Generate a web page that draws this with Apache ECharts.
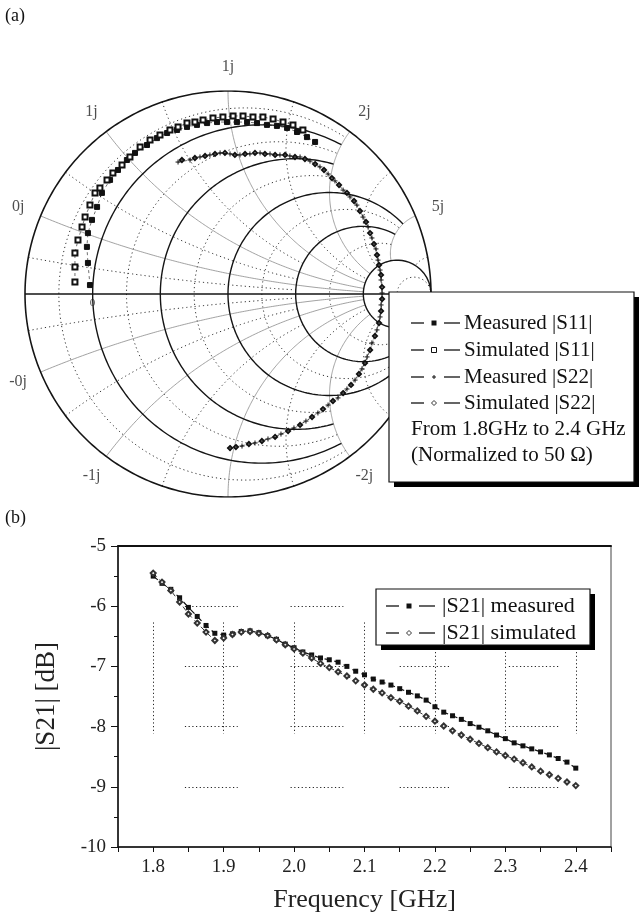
<!DOCTYPE html>
<html><head><meta charset="utf-8">
<script src="https://cdn.jsdelivr.net/npm/echarts@6/dist/echarts.min.js"></script>
<style>html,body{margin:0;padding:0;background:#fff}#c{width:639px;height:916px}</style>
</head><body><div id="c"></div>
<script>
// ---------- (b) |S21| data ----------
const freqs = [1.8,1.8125,1.825,1.8375,1.85,1.8625,1.875,1.8875,1.9,1.9125,1.925,1.9375,1.95,1.9625,1.975,1.9875,
  2.0,2.0125,2.025,2.0375,2.05,2.0625,2.075,2.0875,2.1,2.1125,2.125,2.1375,2.15,2.1625,2.175,2.1875,
  2.2,2.2125,2.225,2.2375,2.25,2.2625,2.275,2.2875,2.3,2.3125,2.325,2.3375,2.35,2.3625,2.375,2.3875,2.4];
const s21Measured = [-5.50,-5.62,-5.72,-5.86,-6.02,-6.17,-6.32,-6.45,-6.48,-6.46,-6.42,-6.41,-6.44,-6.49,-6.55,-6.63,
  -6.69,-6.76,-6.81,-6.86,-6.89,-6.93,-7.00,-7.08,-7.14,-7.21,-7.26,-7.31,-7.37,-7.43,-7.49,-7.56,
  -7.67,-7.76,-7.82,-7.88,-7.95,-8.01,-8.07,-8.14,-8.20,-8.27,-8.32,-8.37,-8.42,-8.47,-8.53,-8.59,-8.69];
const s21Simulated = [-5.45,-5.60,-5.74,-5.93,-6.13,-6.28,-6.43,-6.57,-6.53,-6.47,-6.43,-6.42,-6.45,-6.49,-6.56,-6.64,
  -6.71,-6.78,-6.86,-6.95,-7.02,-7.09,-7.16,-7.24,-7.31,-7.38,-7.44,-7.52,-7.58,-7.66,-7.74,-7.83,
  -7.91,-7.99,-8.07,-8.14,-8.21,-8.28,-8.35,-8.42,-8.48,-8.54,-8.60,-8.67,-8.74,-8.80,-8.86,-8.92,-8.98];
const yTickValues = [-10,-9,-8,-7,-6,-5];
const xTickLabels = ['1.8','1.9','2.0','2.1','2.2','2.3','2.4'];

// ---------- (a) Smith chart data (reflection coefficient, real / imag) ----------
const s11Measured = [[-0.680,0.044],[-0.690,0.153],[-0.695,0.232],[-0.690,0.300],[-0.670,0.365],[-0.645,0.429],
  [-0.621,0.498],[-0.581,0.562],[-0.542,0.611],[-0.498,0.660],[-0.458,0.695],[-0.399,0.734],[-0.350,0.768],
  [-0.300,0.793],[-0.251,0.808],[-0.202,0.823],[-0.153,0.833],[-0.103,0.842],[-0.054,0.847],[-0.005,0.847],
  [0.044,0.847],[0.094,0.847],[0.143,0.842],[0.192,0.833],[0.241,0.828],[0.291,0.818],[0.340,0.798],
  [0.389,0.773],[0.429,0.749]];
const s11Simulated = [[-0.754,0.059],[-0.754,0.133],[-0.754,0.202],[-0.739,0.266],[-0.719,0.330],[-0.704,0.379],
  [-0.680,0.438],[-0.655,0.498],[-0.631,0.522],[-0.596,0.562],[-0.567,0.596],[-0.522,0.635],[-0.483,0.675],
  [-0.433,0.724],[-0.384,0.759],[-0.335,0.783],[-0.286,0.808],[-0.246,0.823],[-0.202,0.842],[-0.163,0.847],
  [-0.123,0.857],[-0.074,0.867],[-0.025,0.872],[0.025,0.877],[0.074,0.877],[0.123,0.872],[0.172,0.872],
  [0.222,0.862],[0.271,0.847],[0.320,0.833],[0.369,0.808]];
const s22Measured = [[-0.246,0.650],[-0.187,0.660],[-0.138,0.675],[-0.089,0.685],[-0.039,0.695],[0.010,0.690],
  [0.059,0.685],[0.108,0.690],[0.158,0.695],[0.207,0.690],[0.256,0.685],[0.305,0.680],[0.355,0.675],[0.404,0.655],
  [0.453,0.626],[0.493,0.591],[0.527,0.557],[0.567,0.512],[0.601,0.478],[0.635,0.438],[0.665,0.379],[0.690,0.330],
  [0.709,0.276],[0.729,0.222],[0.739,0.167],[0.749,0.118],[0.754,0.069],[0.759,0.005],[0.754,-0.054],[0.749,-0.113],
  [0.734,-0.177],[0.709,-0.241],[0.685,-0.310],[0.660,-0.369],[0.626,-0.424],[0.586,-0.468],[0.542,-0.512],
  [0.493,-0.547],[0.443,-0.586],[0.384,-0.626],[0.325,-0.660],[0.261,-0.690],[0.197,-0.714],[0.133,-0.734],
  [0.069,-0.749],[0.010,-0.759]];
const s22Simulated = [[-0.227,0.660],[-0.163,0.670],[-0.113,0.680],[-0.064,0.690],[-0.015,0.695],[0.034,0.685],
  [0.084,0.690],[0.133,0.695],[0.182,0.690],[0.232,0.685],[0.281,0.685],[0.330,0.675],[0.379,0.665],[0.429,0.640],
  [0.473,0.611],[0.512,0.571],[0.547,0.537],[0.586,0.498],[0.621,0.458],[0.650,0.409],[0.680,0.355],[0.700,0.300],
  [0.719,0.246],[0.734,0.192],[0.744,0.143],[0.754,0.094],[0.759,0.034],[0.759,-0.025],[0.754,-0.084],[0.744,-0.143],
  [0.724,-0.207],[0.700,-0.276],[0.675,-0.340],[0.645,-0.394],[0.606,-0.448],[0.567,-0.488],[0.517,-0.527],
  [0.468,-0.567],[0.414,-0.606],[0.355,-0.645],[0.296,-0.675],[0.232,-0.704],[0.167,-0.724],[0.103,-0.739],
  [0.039,-0.754],[0.010,-0.759]];
// Smith grid definition
const majorR = [0.2, 0.5, 1, 2, 5];
const majorRLimit = [2, 2, 5, 5, 1e9];
const minorR = [1/11, 1/3, 5/7, 1.4, 3, 11];
const minorRLimit = [2, 2, 2, 5, 5, 1e9];
const majorX = [0.2, 0.5, 1, 2, 5];
const majorXLimit = [5, 5, 5, 5, 5];
const minorX = [1/11, 1/3, 5/7, 1.4, 3, 11];
const minorXLimit = [2, 2, 2, 5, 5, 5];
const reactLabels = ['0j','1j','1j','2j','5j','-0j','-1j','-2j'];
const reactLabelX = [0.2, 0.5, 1, 2, 5, -0.2, -0.5, -2];

const SERIF = 'Liberation Serif';

function gamma(r, x) {
  const d = (r + 1) * (r + 1) + x * x;
  return [(r * r + x * x - 1) / d, 2 * x / d];
}
function resArc(r, X) {
  const a = Math.atan(X), pts = [], N = 220;
  for (let i = 0; i <= N; i++) pts.push(gamma(r, Math.tan(-a + 2 * a * i / N)));
  return pts;
}
function reactArc(x, R) {
  const a = Math.atan(R), pts = [], N = 160;
  for (let i = 0; i <= N; i++) pts.push(gamma(Math.tan(a * i / N), x));
  return pts;
}
function arcsSeries(coordsList, lineStyle, z) {
  return { type: 'lines', coordinateSystem: 'cartesian2d', xAxisIndex: 0, yAxisIndex: 0, polyline: true,
    silent: true, animation: false, z: z || 1, lineStyle: Object.assign({ opacity: 1 }, lineStyle),
    data: coordsList.map(c => ({ coords: c })) };
}
const outer = [];
for (let i = 0; i <= 360; i++) { const t = i / 360 * 2 * Math.PI; outer.push([Math.cos(t), Math.sin(t)]); }

const majorRArcs = majorR.map((r, i) => resArc(r, majorRLimit[i]));
const minorRArcs = minorR.map((r, i) => resArc(r, minorRLimit[i]));
const majorXArcs = [];
majorX.forEach((x, i) => { majorXArcs.push(reactArc(x, majorXLimit[i])); majorXArcs.push(reactArc(-x, majorXLimit[i])); });
const minorXArcs = [];
minorX.forEach((x, i) => { minorXArcs.push(reactArc(x, minorXLimit[i])); minorXArcs.push(reactArc(-x, minorXLimit[i])); });

const labelData = reactLabelX.map((x, i) => { const g = gamma(0, x); return [g[0] * 1.12, g[1] * 1.12, reactLabels[i]]; });

// (b) dotted grid fragments
const hGridY = [-6, -7, -8, -9];
const hGridRanges = [[1.845, 1.92], [1.995, 2.07], [2.15, 2.22], [2.305, 2.375]];
const vGridX = [1.8, 1.9, 2.0, 2.1, 2.2, 2.3, 2.4];
const vGridRange = [-6.27, -8.12];
const gridSegs = [];
hGridY.forEach(y => hGridRanges.forEach(r => gridSegs.push({ coords: [[r[0], y], [r[1], y]] })));
vGridX.forEach(x => gridSegs.push({ coords: [[x, vGridRange[0]], [x, vGridRange[1]]] }));

function smithSeries(name, data, symbol, size, lineWidth) {
  return { name, type: 'line', xAxisIndex: 0, yAxisIndex: 0, data, symbol, symbolSize: size,
    showAllSymbol: true, animation: false, z: 5,
    lineStyle: { color: '#111', width: lineWidth, type: [3, 3] },
    itemStyle: { color: '#111', borderColor: '#111', borderWidth: 1 } };
}

function txt(text, x, y, fs) {
  return { type: 'text', x: x, y: y, z: 101, style: { text: text, verticalAlign: 'middle', align: 'left',
    font: fs + 'px "' + SERIF + '"', fill: '#111' } };
}
// legend graphics
function legendGroup(x, y, w, h, rows, extra, fs, symX, textX) {
  const ch = [
    { type: 'rect', z: 100, shape: { x: x + 5, y: y + 5, width: w, height: h }, style: { fill: '#000' } },
    { type: 'rect', z: 100, shape: { x: x, y: y, width: w, height: h }, style: { fill: '#fff', stroke: '#111', lineWidth: 1.2 } }
  ];
  rows.forEach((r) => {
    const cy = y + r.dy;
    ch.push({ type: 'line', z: 101, shape: { x1: symX, y1: cy, x2: symX + 13, y2: cy }, style: { stroke: '#111', lineWidth: 1.3 } });
    ch.push({ type: 'line', z: 101, shape: { x1: symX + 33, y1: cy, x2: symX + 49, y2: cy }, style: { stroke: '#111', lineWidth: 1.3 } });
    const mx = symX + 23;
    if (r.sym === 'fill') ch.push({ type: 'rect', z: 101, shape: { x: mx - 2.5, y: cy - 2.5, width: 5, height: 5 }, style: { fill: '#111' } });
    if (r.sym === 'hollow') ch.push({ type: 'rect', z: 101, shape: { x: mx - 2.5, y: cy - 2.5, width: 5, height: 5 }, style: { fill: '#fff', stroke: '#111', lineWidth: 1 } });
    if (r.sym === 'plus') { ch.push({ type: 'line', z: 101, shape: { x1: mx - 2, y1: cy, x2: mx + 2, y2: cy }, style: { stroke: '#111', lineWidth: 1 } });
      ch.push({ type: 'line', z: 101, shape: { x1: mx, y1: cy - 2, x2: mx, y2: cy + 2 }, style: { stroke: '#111', lineWidth: 1 } }); }
    if (r.sym === 'diamond') ch.push({ type: 'polygon', z: 101, shape: { points: [[mx, cy - 2.5], [mx + 2.5, cy], [mx, cy + 2.5], [mx - 2.5, cy]] }, style: { fill: '#fff', stroke: '#333', lineWidth: 1 } });
    ch.push(txt(r.text, textX, cy, fs));
  });
  extra.forEach(e => ch.push(txt(e.text, symX, y + e.dy, fs)));
  return ch;
}

const chart = echarts.init(document.getElementById('c'), null, { renderer: 'canvas' });
const graphics = [txt('(a)', 5, 16, 18), txt('(b)', 5, 518, 18)]
  .concat(legendGroup(389, 292, 245, 190, [
      { sym: 'fill', text: 'Measured |S11|', dy: 31 },
      { sym: 'hollow', text: 'Simulated |S11|', dy: 58 },
      { sym: 'plus', text: 'Measured |S22|', dy: 85 },
      { sym: 'diamond', text: 'Simulated |S22|', dy: 111 }
    ], [{ text: 'From 1.8GHz to 2.4 GHz', dy: 137 }, { text: '(Normalized to 50 \u03a9)', dy: 163 }], 21, 411, 464))
  .concat(legendGroup(376, 589, 214, 56, [
      { sym: 'fill', text: '|S21| measured', dy: 17 },
      { sym: 'diamond', text: '|S21| simulated', dy: 44 }
    ], [], 22, 386, 442));

const labelStyle = { show: true, position: 'inside', formatter: p => p.value[2], fontFamily: SERIF, color: '#222' };
const option = {
  backgroundColor: '#fff',
  animation: false,
  grid: [
    { left: 25, top: 91, width: 406, height: 406, show: false, outerBoundsMode: 'none', containLabel: false },
    { left: 118, top: 546, width: 493, height: 301, show: true, borderColor: '#444', borderWidth: 1,
      backgroundColor: 'transparent', outerBoundsMode: 'none', containLabel: false }
  ],
  xAxis: [
    { gridIndex: 0, type: 'value', min: -1, max: 1, show: false },
    { gridIndex: 1, type: 'value', min: 1.75, max: 2.45, interval: 0.05,
      axisLine: { lineStyle: { color: '#111', width: 1.5 } },
      axisTick: { show: true, inside: false, length: 5, lineStyle: { color: '#111' } },
      splitLine: { show: false },
      axisLabel: { margin: 11, fontFamily: SERIF, fontSize: 19, color: '#222',
        formatter: v => { const k = Math.round((v - 1.8) * 10); return (Math.abs(v - 1.8 - k / 10) < 1e-6 && k >= 0 && k < xTickLabels.length) ? xTickLabels[k] : ''; } },
      name: 'Frequency [GHz]', nameLocation: 'middle', nameGap: 40,
      nameTextStyle: { fontFamily: SERIF, fontSize: 26, color: '#222' } },
    { gridIndex: 1, type: 'value', position: 'top', min: 1.75, max: 2.45, interval: 0.05,
      axisLine: { show: true, lineStyle: { color: '#111', width: 2 } },
      axisTick: { show: false }, axisLabel: { show: false }, splitLine: { show: false } }
  ],
  yAxis: [
    { gridIndex: 0, type: 'value', min: -1, max: 1, show: false },
    { gridIndex: 1, type: 'value', min: yTickValues[0], max: yTickValues[yTickValues.length - 1], interval: 1,
      axisLine: { show: true, lineStyle: { color: '#111', width: 1.5 } },
      axisTick: { show: true, inside: false, length: 7, lineStyle: { color: '#111' } },
      minorTick: { show: true, splitNumber: 2, length: 4, lineStyle: { color: '#111' } },
      splitLine: { show: false },
      axisLabel: { margin: 12, fontFamily: SERIF, fontSize: 19, color: '#222' },
      name: '|S21| [dB]', nameLocation: 'middle', nameGap: 58, nameRotate: 90,
      nameTextStyle: { fontFamily: SERIF, fontSize: 27, color: '#222' } }
  ],
  graphic: { elements: graphics },
  series: [
    arcsSeries(minorRArcs, { color: '#333', width: 1, type: [1.2, 3] }, 1),
    arcsSeries(minorXArcs, { color: '#333', width: 1, type: [1.2, 3] }, 1),
    arcsSeries(majorXArcs, { color: '#8a8a8a', width: 0.8 }, 2),
    arcsSeries(majorRArcs, { color: '#151515', width: 1.4 }, 3),
    arcsSeries([outer, [[-1, 0], [1, 0]]], { color: '#151515', width: 1.6 }, 3),
    { type: 'scatter', xAxisIndex: 0, yAxisIndex: 0, symbolSize: 0, clip: false, silent: true, z: 6,
      data: labelData, label: Object.assign({ fontSize: 16 }, labelStyle) },
    { type: 'scatter', xAxisIndex: 0, yAxisIndex: 0, symbolSize: 0, clip: false, silent: true, z: 6,
      data: [[-0.667, -0.045, '0']], label: Object.assign({ fontSize: 11 }, labelStyle) },
    smithSeries('Measured |S11|', s11Measured, 'rect', 5, 0.6),
    smithSeries('Simulated |S11|', s11Simulated, 'emptyRect', 5, 0.6),
    smithSeries('Measured |S22|', s22Measured, 'path://M0,5L10,5M5,0L5,10', 5, 0.6),
    smithSeries('Simulated |S22|', s22Simulated, 'emptyDiamond', 4, 0.6),
    // (b)
    { type: 'lines', coordinateSystem: 'cartesian2d', xAxisIndex: 1, yAxisIndex: 1, silent: true, z: 1,
      lineStyle: { color: '#222', width: 1, type: [1.2, 2.5], opacity: 1 }, data: gridSegs },
    { name: '|S21| measured', type: 'line', xAxisIndex: 1, yAxisIndex: 1, z: 5,
      data: freqs.map((f, i) => [f, s21Measured[i]]), symbol: 'rect', symbolSize: 5, showAllSymbol: true,
      lineStyle: { color: '#111', width: 1.2, type: [6, 4] }, itemStyle: { color: '#111' } },
    { name: '|S21| simulated', type: 'line', xAxisIndex: 1, yAxisIndex: 1, z: 5,
      data: freqs.map((f, i) => [f, s21Simulated[i]]), symbol: 'emptyDiamond', symbolSize: 5, showAllSymbol: true,
      lineStyle: { color: '#333', width: 1, type: [5, 4] }, itemStyle: { color: '#333', borderColor: '#333', borderWidth: 1 } }
  ]
};
chart.setOption(option);
</script>
</body></html>
